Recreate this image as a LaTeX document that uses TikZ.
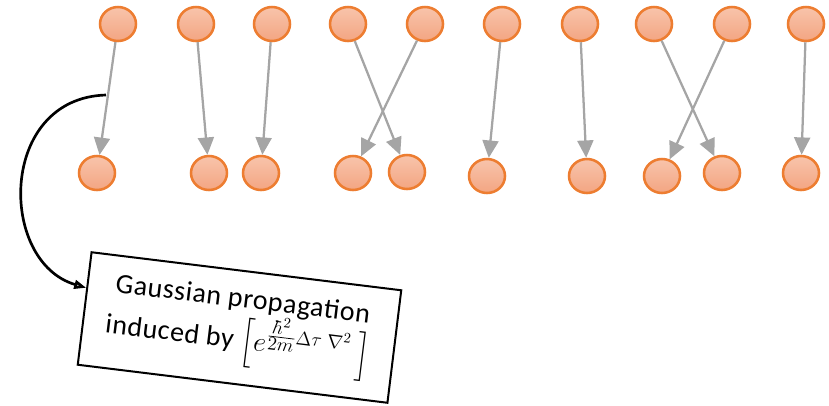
\documentclass[tikz,border=0pt]{standalone}
\usepackage{fontspec}
\setmainfont{Carlito}
\usepackage{amsmath}
\usetikzlibrary{arrows.meta, shapes.geometric, calc}
\definecolor{beadorange}{HTML}{ED7D31}
\definecolor{beadtop}{HTML}{F8C4AB}
\definecolor{beadbottom}{HTML}{F3A582}
\definecolor{pathgray}{HTML}{A5A5A5}

\begin{document}
\begin{tikzpicture}[
    x=0.75pt, y=-0.75pt,
    bead/.style={draw=beadorange, line width=1.9pt, ellipse,
                 minimum width=27pt, minimum height=25.5pt, inner sep=0pt,
                 top color=beadtop, bottom color=beadbottom},
    hop/.style={draw=pathgray, line width=1.7pt,
                -{Triangle[length=13pt,width=12pt]}},
    note/.style={draw, line width=1.5pt, rotate=-7, minimum width=234pt,
                 minimum height=85pt, align=center,
                 font=\addfontfeatures{LetterSpace=2}\fontsize{21}{31}\selectfont},
    link/.style={draw, line width=2pt, -{Triangle[open,length=9pt,width=6.5pt]}}
  ]
  \useasboundingbox (0,0) rectangle (829,405);
  % upper beads
  \foreach \x [count=\i] in {118,196,272,348,425,502,580,654,732,806}
    \node[bead] (t\i) at (\x,24) {};
  % lower beads
  \foreach \x/\y [count=\i] in {97/173,209/173,261/173,353/173,407/172,
                                487/176,587/176,662/176,722/173,801/173}
    \node[bead] (b\i) at (\x,\y) {};
  % permutation
  \foreach \a/\b in {1/1,2/2,3/3,4/5,5/4,6/6,7/7,8/9,9/8,10/10}
    \draw[hop] (t\a) -- (b\b);

  \node[note] (kernel) at (239.5,327.5)
    {Gaussian propagation\\induced by
     $\Bigl[e^{\frac{\scriptstyle\hbar^2}{\scriptstyle 2m}\Delta\tau\;\nabla^2}\ \Bigr]$};
  \coordinate (from) at (106,95);
  \draw[link] (from) .. controls (-2,98) and (-2,262)
    .. ($(kernel.north west)!0.32!(kernel.south west)$);
\end{tikzpicture}
\end{document}
